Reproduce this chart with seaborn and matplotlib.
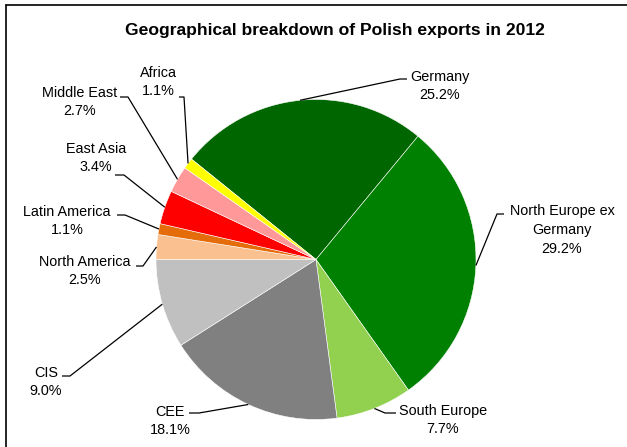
import numpy as np
import matplotlib
matplotlib.use("Agg")
import matplotlib.pyplot as plt
from matplotlib.lines import Line2D
import seaborn as sns

# Export shares by destination, 2012 (%)
regions = ["Germany", "North Europe ex\nGermany", "South Europe", "CEE", "CIS",
           "North America", "Latin America", "East Asia", "Middle East", "Africa"]
shares = [25.2, 29.2, 7.7, 18.1, 9.0, 2.5, 1.1, 3.4, 2.7, 1.1]
colors = ["#006600", "#008000", "#92D050", "#808080", "#C0C0C0",
          "#FAC090", "#E46C0A", "#FF0000", "#FF9999", "#FFFF00"]
title = "Geographical breakdown of Polish exports in 2012"

sns.set_style("white")
plt.rcParams["font.family"] = ["Liberation Sans", "DejaVu Sans"]

W, H = 627, 447
fig = plt.figure(figsize=(W / 100, H / 100), dpi=100)
ax = fig.add_axes([0, 0, 1, 1])


def P(x, y):
    """Pixel position (from top-left) to data coordinates."""
    return x, H - y


cx, cy = P(316, 259.5)
R = 160
# the CIS wedge closes exactly on the left horizontal
start = (180 + 3.6 * sum(shares[:5])) % 360
wedges, _ = ax.pie(shares, colors=colors, startangle=start, counterclock=False,
                   center=(cx, cy), radius=R,
                   wedgeprops=dict(edgecolor="white", linewidth=0.4))
ax.set_xlim(0, W)
ax.set_ylim(0, H)
ax.set_aspect("equal")
ax.axis("off")

# label block centre, elbow of the leader line, end of its short horizontal tail
layout = [
    ((440, 86), (400, 79), 407),
    ((562, 230), (497, 214), 504),
    ((443, 420), (385, 413), 396),
    ((170, 421), (199, 413), 189),
    ((46, 382), (70, 376), 62),
    ((85, 271), (143, 266), 136),
    ((67, 221), (125, 215), 117),
    ((96, 158), (124, 175), 115),
    ((80, 102), (128, 97), 120),
    ((158, 82), (184, 97), 179),
]

for w, name, val, (tpos, knee, tail) in zip(wedges, regions, shares, layout):
    mid = np.deg2rad((w.theta1 + w.theta2) / 2)
    sx, sy = cx + R * np.cos(mid), cy + R * np.sin(mid)
    kx, ky = P(*knee)
    ax.plot([sx, kx, tail], [sy, ky, ky], color="black", lw=0.9,
            solid_capstyle="butt")
    tx, ty = P(*tpos)
    ax.text(tx, ty, f"{name}\n{val:.1f}%", ha="center", va="center",
            fontsize=10.4, color="black", multialignment="center",
            linespacing=1.45)

fig.text(335 / W, 1 - 30 / H, title, ha="center", va="center",
         fontsize=12.6, fontweight="bold", color="black")

# chart frame (left and top edges)
fig.add_artist(Line2D([5.5 / W, 5.5 / W], [0, 1 - 4.5 / H],
                      transform=fig.transFigure, color="black", lw=1.2))
fig.add_artist(Line2D([5.5 / W, 1], [1 - 4.5 / H, 1 - 4.5 / H],
                      transform=fig.transFigure, color="black", lw=1.2))

fig.savefig("out.png", dpi=100, facecolor="white")
